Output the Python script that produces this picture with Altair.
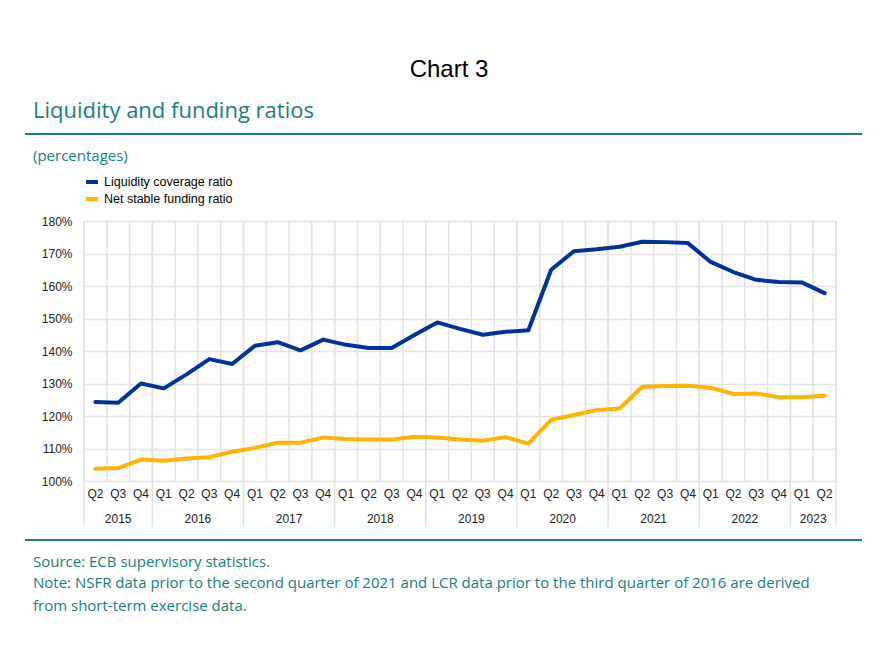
import altair as alt
import pandas as pd

quarters = ["Q2", "Q3", "Q4"] + ["Q1", "Q2", "Q3", "Q4"] * 7 + ["Q1", "Q2"]
years = ["2015", "2016", "2017", "2018", "2019", "2020", "2021", "2022", "2023"]
year_mid = [1, 4.5, 8.5, 12.5, 16.5, 20.5, 24.5, 28.5, 31.5]
year_bounds = [-0.5, 2.5, 6.5, 10.5, 14.5, 18.5, 22.5, 26.5, 30.5, 32.5]

lcr = [124.3, 124.1, 130.0, 128.5, 132.8, 137.5, 136.0, 141.6, 142.7, 140.2, 143.5,
       141.9, 140.9, 140.9, 144.9, 148.8, 146.8, 145.0, 145.9, 146.4, 165.0, 170.7,
       171.3, 172.1, 173.6, 173.5, 173.2, 167.4, 164.3, 161.9, 161.2, 161.1, 157.8]
nsfr = [103.8, 104.0, 106.6, 106.2, 106.9, 107.3, 109.0, 110.2, 111.8, 111.8, 113.4,
        112.9, 112.8, 112.8, 113.6, 113.4, 112.8, 112.4, 113.5, 111.5, 118.8, 120.3,
        121.8, 122.3, 129.0, 129.2, 129.3, 128.7, 126.8, 126.9, 125.8, 125.8, 126.2]

series_names = ["Liquidity coverage ratio", "Net stable funding ratio"]
series_colors = ["#003299", "#ffb400"]

TEAL = "#17807e"
SANS = "Liberation Sans"
OPEN = "Open Sans"

rows = []
for i, v in enumerate(lcr):
    rows.append({"i": i, "v": v, "s": series_names[0]})
for i, v in enumerate(nsfr):
    rows.append({"i": i, "v": v, "s": series_names[1]})
df = pd.DataFrame(rows)

xscale = alt.Scale(domain=[-0.5, 32.5], nice=False, zero=False)
yscale = alt.Scale(domain=[100, 180], nice=False, zero=False)

grid_v = alt.Chart(pd.DataFrame({"b": list(range(-1, 33))})).transform_calculate(
    x="datum.b + 0.5"
).mark_rule(color="#e3e3e3", strokeWidth=1.5).encode(
    x=alt.X("x:Q", scale=xscale, axis=None),
)

year_rules = alt.Chart(pd.DataFrame({"x": year_bounds})).mark_rule(
    color="#e3e3e3", strokeWidth=1.5
).encode(
    x=alt.X("x:Q", scale=xscale, axis=None),
    y=alt.value(0),
    y2=alt.value(306),
)

quarter_text = alt.Chart(pd.DataFrame({"x": list(range(len(quarters))), "t": quarters})).mark_text(
    font=SANS, fontSize=12, color="#222222", baseline="middle"
).encode(
    x=alt.X("x:Q", scale=xscale, axis=None),
    y=alt.value(273),
    text="t:N",
)

year_text = alt.Chart(pd.DataFrame({"x": year_mid, "t": years})).mark_text(
    font=SANS, fontSize=12, color="#222222", baseline="middle"
).encode(
    x=alt.X("x:Q", scale=xscale, axis=None),
    y=alt.value(298),
    text="t:N",
)

lines = alt.Chart(df).mark_line(strokeWidth=4, strokeJoin="round", strokeCap="round").encode(
    x=alt.X("i:Q", scale=xscale, axis=None),
    y=alt.Y("v:Q", scale=yscale,
            axis=alt.Axis(values=list(range(100, 181, 10)), labelExpr="datum.value + '%'",
                          grid=True, gridColor="#e3e3e3", gridWidth=1.5, ticks=False, domain=False,
                          labelFont=SANS, labelFontSize=12, labelColor="#222222", labelPadding=12,
                          title=None)),
    color=alt.Color("s:N", scale=alt.Scale(domain=series_names, range=series_colors),
                    legend=alt.Legend(orient="none", legendX=0, legendY=-47, title=None,
                                      symbolType="stroke", symbolStrokeWidth=4, symbolSize=144,
                                      labelFont=SANS, labelFontSize=12.5, labelColor="#000000",
                                      rowPadding=1, labelOffset=4)),
    order="i:Q",
)

def txt(s, x, y, font, size, color, align="left"):
    return alt.Chart(pd.DataFrame({"t": [s]})).mark_text(
        font=font, fontSize=size, color=color, align=align, baseline="middle"
    ).encode(x=alt.value(x), y=alt.value(y), text="t:N")

def hline(x1, x2, y):
    return alt.Chart(pd.DataFrame({"a": [0]})).mark_rule(color=TEAL, strokeWidth=2).encode(
        x=alt.value(x1), x2=alt.value(x2), y=alt.value(y)
    )

decor = [
    txt("Chart 3", 365, -151, SANS, 24, "#000000", align="center"),
    txt("Liquidity and funding ratios", -51, -110, OPEN, 22, TEAL),
    hline(-59, 778, -87),
    txt("(percentages)", -51, -65, OPEN, 15, TEAL),
    hline(-59, 778, 319),
    txt("Source: ECB supervisory statistics.", -51, 341, OPEN, 15, TEAL),
    txt("Note: NSFR data prior to the second quarter of 2021 and LCR data prior to the third quarter of 2016 are derived",
        -51, 362, OPEN, 15, TEAL),
    txt("from short-term exercise data.", -51, 385, OPEN, 15, TEAL),
]

chart = alt.layer(grid_v, year_rules, quarter_text, year_text, lines, *decor).properties(
    width=752, height=260,
    autosize=alt.AutoSizeParams(type="none"),
    padding={"left": 76, "top": 213, "right": 40, "bottom": 170},
).configure_view(stroke=None).resolve_scale(x="shared", y="shared")

chart.save("out.html", embed_options={"renderer": "svg", "actions": False})
